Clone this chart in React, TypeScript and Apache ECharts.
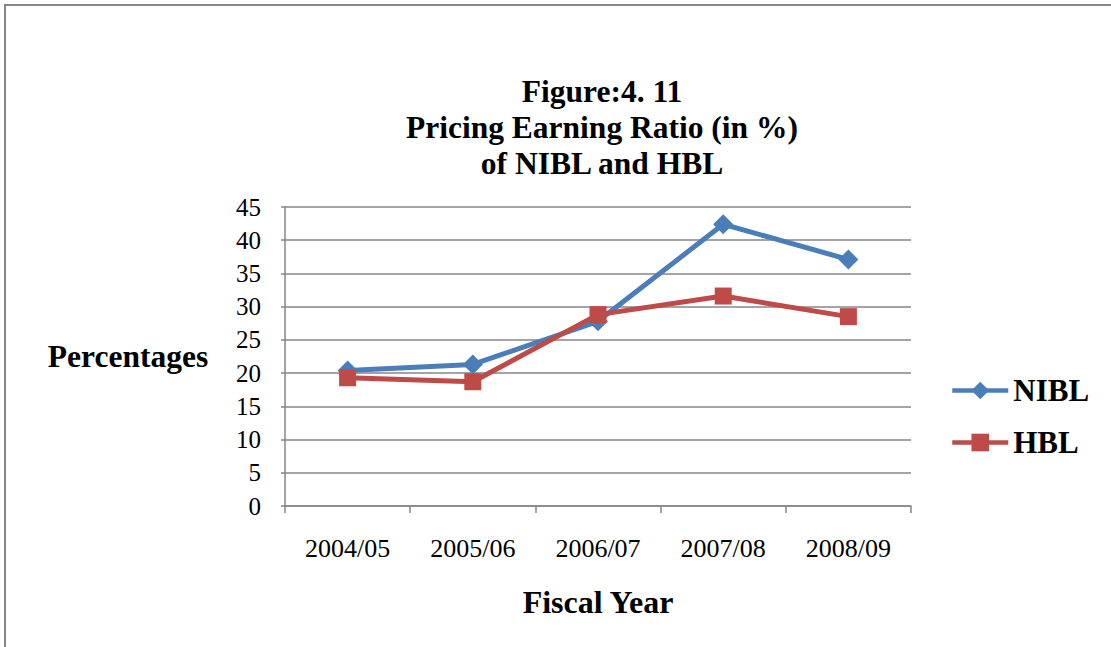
import React, { useEffect, useRef } from "react";
import * as echarts from "echarts";

const categories = ["2004/05", "2005/06", "2006/07", "2007/08", "2008/09"];
const nibl = [20.4, 21.3, 27.8, 42.4, 37.1];
const hbl = [19.3, 18.7, 28.8, 31.6, 28.5];
const yTicks = { min: 0, max: 45, interval: 5 };
const titleLines = ["Figure:4. 11", "Pricing Earning Ratio (in %)", "of NIBL and HBL"];

const serif = "'Liberation Serif', 'Times New Roman', serif";

export default function App() {
  const ref = useRef<HTMLDivElement>(null);
  useEffect(() => {
    if (!ref.current) return;
    const chart = echarts.init(ref.current, undefined, { renderer: "svg" });
    chart.setOption({
      animation: false,
      backgroundColor: "#ffffff",
      title: {
        text: titleLines.join("\n"),
        left: 602,
        top: 73,
        padding: 0,
        textAlign: "center",
        textStyle: {
          fontFamily: serif,
          fontWeight: "bold",
          fontSize: 31.5,
          lineHeight: 36,
          color: "#000",
        },
      },
      legend: {
        orient: "vertical",
        left: 945,
        top: 370,
        itemWidth: 56,
        itemHeight: 22,
        itemGap: 21,
        lineStyle: { width: 4.5 },
        textStyle: { fontFamily: serif, fontWeight: "bold", fontSize: 31, color: "#000" },
        data: ["NIBL", "HBL"],
      },
      grid: { left: 285, right: 200, top: 207, bottom: 141 },
      xAxis: {
        type: "category",
        data: categories,
        boundaryGap: true,
        name: "Fiscal Year",
        nameLocation: "middle",
        nameGap: 80,
        nameTextStyle: { fontFamily: serif, fontWeight: "bold", fontSize: 32, color: "#000" },
        axisLine: { lineStyle: { color: "#868686", width: 1.5 } },
        axisTick: { show: true, length: 7, lineStyle: { color: "#868686", width: 1.5 } },
        axisLabel: { fontFamily: serif, fontSize: 26, color: "#000", margin: 29 },
      },
      yAxis: {
        type: "value",
        min: yTicks.min,
        max: yTicks.max,
        interval: yTicks.interval,
        name: "Percentages",
        nameLocation: "middle",
        nameRotate: 0,
        nameGap: 157,
        nameTextStyle: { fontFamily: serif, fontWeight: "bold", fontSize: 31.5, color: "#000", align: "center" },
        axisLine: { show: true, lineStyle: { color: "#868686", width: 1.5 } },
        axisTick: { show: true, length: 4, lineStyle: { color: "#868686", width: 1.5 } },
        axisLabel: { fontFamily: serif, fontSize: 25, color: "#000", margin: 24 },
        splitLine: { lineStyle: { color: "#868686", width: 1.5 } },
      },
      series: [
        {
          name: "NIBL",
          type: "line",
          data: nibl,
          symbol: "diamond",
          symbolSize: 20,
          itemStyle: { color: "#4A7EBB" },
          lineStyle: { color: "#4A7EBB", width: 5 },
        },
        {
          name: "HBL",
          type: "line",
          data: hbl,
          symbol: "rect",
          symbolSize: 17,
          itemStyle: { color: "#BE4B48" },
          lineStyle: { color: "#BE4B48", width: 5 },
        },
      ],
      graphic: [
        { type: "line", shape: { x1: 4, y1: 5, x2: 1111, y2: 5 }, style: { stroke: "#878787", lineWidth: 2 } },
        { type: "line", shape: { x1: 5, y1: 4, x2: 5, y2: 647 }, style: { stroke: "#878787", lineWidth: 2 } },
      ],
    });
    return () => chart.dispose();
  }, []);
  return (
    <div
      ref={ref}
      style={{ position: "fixed", left: 0, top: 0, width: 1111, height: 647 }}
    />
  );
}
